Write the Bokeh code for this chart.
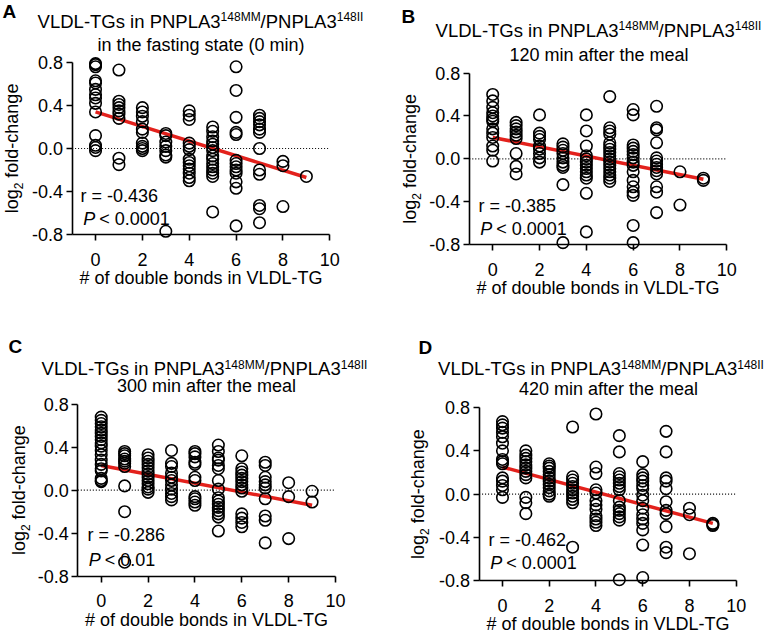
import math
from bokeh.plotting import figure
from bokeh.models import Range1d, FixedTicker, NumeralTickFormatter, Label, ColumnDataSource, LinearAxis
from bokeh.layouts import column, row
from bokeh.embed import file_html
from bokeh.resources import INLINE

# ---------------- data ----------------
bonds = [0, 1, 2, 3, 4, 5, 6, 7, 8, 9]

fc_A = [
    [0.79, 0.78, 0.76, 0.63, 0.61, 0.55, 0.50, 0.47, 0.42, 0.34, 0.12, 0.03, 0.01, -0.02],
    [0.73, 0.44, 0.41, 0.38, 0.35, 0.32, 0.28, -0.09, -0.15],
    [0.38, 0.34, 0.30, 0.25, 0.18, 0.15, 0.05, 0.02, 0.0, -0.02],
    [0.14, 0.12, 0.06, 0.02, -0.02, -0.06, -0.08, -0.77],
    [0.35, 0.31, 0.27, 0.05, 0.02, -0.01, -0.10, -0.13, -0.16, -0.19, -0.23, -0.27, -0.30],
    [0.20, 0.16, 0.11, 0.07, 0.04, 0.01, -0.02, -0.07, -0.10, -0.14, -0.17, -0.20, -0.23, -0.26, -0.59],
    [0.76, 0.54, 0.29, 0.15, 0.13, -0.11, -0.14, -0.17, -0.20, -0.23, -0.31, -0.37, -0.72],
    [0.31, 0.28, 0.25, 0.22, 0.18, 0.15, 0.0, -0.20, -0.24, -0.53, -0.56, -0.69],
    [-0.12, -0.16, -0.54],
    [-0.26],
]
fc_B = [
    [0.60, 0.54, 0.48, 0.43, 0.40, 0.37, 0.35, 0.28, 0.24, 0.20, 0.12, 0.08, -0.02],
    [0.34, 0.31, 0.28, 0.25, 0.22, 0.19, 0.05, -0.07, -0.14],
    [0.41, 0.24, 0.21, 0.18, 0.12, 0.09, 0.05, 0.01, -0.03],
    [0.14, 0.11, 0.08, 0.05, 0.01, -0.03, -0.06, -0.08, -0.24, -0.78],
    [0.41, 0.26, 0.12, 0.03, 0.0, -0.03, -0.06, -0.09, -0.12, -0.15, -0.18, -0.32, -0.68],
    [0.58, 0.29, 0.26, 0.23, 0.15, 0.12, 0.09, 0.06, 0.03, 0.0, -0.03, -0.06, -0.09, -0.12, -0.15, -0.18, -0.21],
    [0.46, 0.41, 0.13, 0.10, 0.07, 0.04, 0.01, -0.03, -0.06, -0.12, -0.20, -0.26, -0.31, -0.34, -0.62, -0.78],
    [0.49, 0.29, 0.27, 0.15, 0.01, -0.02, -0.05, -0.08, -0.11, -0.14, -0.26, -0.31, -0.50],
    [-0.12, -0.43],
    [-0.18, -0.20],
]
fc_C = [
    [0.68, 0.65, 0.62, 0.59, 0.56, 0.53, 0.50, 0.47, 0.44, 0.41, 0.37, 0.33, 0.28, 0.24, 0.20, 0.18, 0.11, 0.09, 0.08],
    [0.36, 0.34, 0.32, 0.29, 0.27, 0.25, 0.22, 0.04, -0.20, -0.67],
    [0.33, 0.30, 0.27, 0.24, 0.21, 0.18, 0.15, 0.12, 0.09, 0.06, 0.03, 0.01, -0.02],
    [0.37, 0.25, 0.22, 0.16, 0.12, 0.09, 0.05, 0.01, -0.03, -0.06, -0.09],
    [0.36, 0.34, 0.31, 0.26, 0.24, 0.12, 0.09, -0.06, -0.08, -0.11, -0.14],
    [0.42, 0.36, 0.30, 0.28, 0.23, 0.20, 0.09, 0.01, -0.07, -0.10, -0.13, -0.16, -0.19, -0.22, -0.25, -0.38],
    [0.32, 0.20, 0.17, 0.14, 0.11, 0.08, 0.05, 0.02, -0.01, -0.22, -0.26, -0.30, -0.34],
    [0.26, 0.23, 0.12, 0.08, 0.05, 0.02, -0.08, -0.24, -0.28, -0.49],
    [0.07, -0.06, -0.45],
    [-0.01, -0.11],
]
fc_D = [
    [0.67, 0.64, 0.61, 0.57, 0.53, 0.47, 0.40, 0.32, 0.30, 0.28, 0.15, 0.12, 0.08, 0.04, -0.03],
    [0.40, 0.36, 0.33, 0.30, 0.27, 0.24, 0.21, 0.18, 0.15, -0.03, -0.08, -0.18],
    [0.28, 0.26, 0.24, 0.21, 0.18, 0.15, 0.12, 0.09, 0.06, 0.03, 0.0, -0.02],
    [0.62, 0.16, 0.13, 0.10, 0.07, 0.04, 0.01, -0.02, -0.05, -0.08, -0.49],
    [0.74, 0.25, 0.19, 0.04, 0.01, -0.06, -0.10, -0.14, -0.20, -0.23, -0.26, -0.29],
    [0.54, 0.39, 0.19, 0.16, 0.13, 0.10, 0.07, 0.04, -0.06, -0.12, -0.15, -0.18, -0.21, -0.24, -0.79],
    [0.30, 0.18, 0.15, 0.12, 0.08, 0.05, -0.01, -0.06, -0.13, -0.19, -0.23, -0.27, -0.33, -0.47, -0.77],
    [0.58, 0.39, 0.15, 0.12, 0.05, -0.07, -0.15, -0.18, -0.30, -0.49, -0.54],
    [-0.13, -0.19, -0.55],
    [-0.27, -0.29, -0.28],
]

fit_x = [0, 9]
fit_A = [0.34, -0.27]
fit_B = [0.20, -0.19]
fit_C = [0.23, -0.14]
fit_D = [0.25, -0.27]

panel_letters = ["A", "B", "C", "D"]
title_main = ["VLDL-TGs in PNPLA3", "148MM", "/PNPLA3", "148II"]
subtitles = ["in the fasting state (0 min)", "120 min after the meal",
             "300 min after the meal", "420 min after the meal"]
r_texts = ["r = -0.436", "r = -0.385", "r = -0.286", "r = -0.462"]
p_texts = ["< 0.0001", "< 0.0001", "< 0.01", "< 0.0001"]
x_ticks = [0, 2, 4, 6, 8, 10]
y_ticks = [-0.8, -0.4, 0.0, 0.4, 0.8]
x_bounds = (-1, 10)
y_bounds = (-0.8, 0.8)
x_label = "# of double bonds in VLDL-TG"
y_label_parts = ["log", "2", "fold-change"]

# ---------------- layout constants (pixels inside each panel canvas) ----------------
FONT = "Liberation Sans"
RED = "#e3211c"
MID = 0.3465   # distance (in em) from alphabetic baseline up to the middle of the text box

GEOM = [
    dict(size=(388, 308), fl=71.6, fr=329.3, y08=62, ym08=234, letter=(2, 17.8),
         t1c=200, t1b=27.3, t2c=200.5, t2b=50.7, ylx=18, r=(80, 201.7), P=(82.7, 225)),
    dict(size=(384, 308), fl=80.8, fr=338.3, y08=72.5, ym08=244.3, letter=(13, 22.7),
         t1c=210, t1b=36, t2c=210.5, t2b=61, ylx=28, r=(90, 211.7), P=(91.7, 235)),
    dict(size=(388, 324), fl=77.3, fr=335.0, y08=95.7, ym08=267.7, letter=(8, 45),
         t1c=204, t1b=66.7, t2c=206, t2b=84, ylx=24.7, r=(87, 233), P=(88.3, 258)),
    dict(size=(384, 324), fl=90.6, fr=347.7, y08=99, ym08=272.3, letter=(30, 46),
         t1c=212.5, t1b=66.7, t2c=220, t2b=87, ylx=36, r=(100, 238), P=(101.7, 261)),
]

ADV = {' ': 278, 'V': 667, 'L': 556, 'D': 722, '-': 333, 'T': 611, 'G': 778, 's': 500,
       'i': 222, 'n': 556, 'P': 667, 'N': 722, 'A': 667, '/': 278, 'M': 833, 'I': 278,
       'l': 222, 'o': 556, 'g': 556, 'f': 278, 'd': 556, 'c': 500, 'h': 556, 'a': 556,
       'e': 556, 't': 278, 'm': 833, '(': 333, ')': 333, 'r': 333, 'u': 556, 'b': 556,
       '<': 584, '.': 278, '=': 584}


def text_w(s, size):
    return sum(ADV.get(ch, 556) for ch in s) * size / 1000.0


def build(i, fc, fit):
    g = GEOM[i]
    W, H = g["size"]
    fl, fr = g["fl"], g["fr"]
    ux = (fr - fl) / (x_bounds[1] - x_bounds[0])
    uy = (g["ym08"] - g["y08"]) / (y_bounds[1] - y_bounds[0])
    x0 = x_bounds[0] - fl / ux
    x1 = x_bounds[0] + (W - fl) / ux
    y1 = y_bounds[1] + g["y08"] / uy
    y0 = y_bounds[1] - (H - g["y08"]) / uy

    p = figure(width=W, height=H, x_range=Range1d(x0, x1), y_range=Range1d(y0, y1),
               title=None,
               min_border_left=0, min_border_right=0, min_border_top=0, min_border_bottom=0,
               x_axis_location=None, y_axis_location=None,
               output_backend="svg", toolbar_location=None, tools="")
    p.background_fill_color = "white"
    p.border_fill_color = "white"
    p.outline_line_color = None
    p.grid.visible = False

    xa = LinearAxis(fixed_location=y_bounds[0], bounds=x_bounds,
                    ticker=FixedTicker(ticks=x_ticks))
    ya = LinearAxis(fixed_location=x_bounds[0], bounds=y_bounds,
                    ticker=FixedTicker(ticks=y_ticks),
                    formatter=NumeralTickFormatter(format="0.0"))
    for ax in (xa, ya):
        ax.axis_line_width = 1.6
        ax.axis_line_color = "black"
        ax.major_tick_line_width = 1.6
        ax.major_tick_line_color = "black"
        ax.major_tick_out = 6
        ax.major_tick_in = 0
        ax.minor_tick_out = 0
        ax.minor_tick_in = 0
        ax.major_label_text_font = FONT
        ax.major_label_text_font_size = "18px"
        ax.major_label_text_color = "black"
    xa.major_label_standoff = 12
    ya.major_label_standoff = 3
    xa.axis_label = x_label
    xa.axis_label_text_font = FONT
    xa.axis_label_text_font_size = "18px"
    xa.axis_label_text_font_style = "normal"
    xa.axis_label_text_color = "black"
    xa.axis_label_standoff = -1
    p.add_layout(xa, "below")
    p.add_layout(ya, "left")

    # dotted zero reference line across the axis span
    p.line(list(x_bounds), [0, 0], line_color="black", line_width=1.2, line_dash="1 2")

    xs, ys = [], []
    for b, vals in zip(bonds, fc):
        for v in vals:
            xs.append(b)
            ys.append(v)
    p.line(fit_x, fit, line_color=RED, line_width=3.5)
    src = ColumnDataSource(dict(x=xs, y=ys))
    p.scatter("x", "y", source=src, size=11.5, fill_color=None,
              line_color="black", line_width=1.6)

    def to_data(lx, ly):
        return (x_bounds[0] + (lx - fl) / ux, y_bounds[1] - (ly - g["y08"]) / uy)

    def label(lx, ly, text, size, style="normal", rotated=False, align="left"):
        # (lx, ly) is the alphabetic baseline point; anchor the text box by its middle
        if rotated:
            lx, angle = lx - MID * size, math.pi / 2
        else:
            ly, angle = ly - MID * size, 0.0
        dx, dy = to_data(lx, ly)
        p.add_layout(Label(x=dx, y=dy, text=text, text_font=FONT,
                           text_font_size=f"{size}px", text_font_style=style,
                           text_color="black", text_align=align,
                           text_baseline="middle", angle=angle))

    # panel letter
    label(g["letter"][0], g["letter"][1], panel_letters[i], 19, style="bold")

    # title line 1 with superscripts
    T1, TS = 18.5, 12
    runs = [(title_main[0], T1, 0), (title_main[1], TS, -6.5),
            (title_main[2], T1, 0), (title_main[3], TS, -6.5)]
    total = sum(text_w(t, s) for t, s, _ in runs)
    x = g["t1c"] - total / 2
    for t, s, dy in runs:
        label(x, g["t1b"] + dy, t, s)
        x += text_w(t, s)
    # title line 2
    label(g["t2c"], g["t2b"], subtitles[i], 18, align="center")

    # y label with subscript (rotated, reading upward)
    gap = text_w(" ", 18)
    yruns = [(y_label_parts[0], 18, 0, 0), (y_label_parts[1], 12, 4, 0),
             (y_label_parts[2], 18, 0, gap)]
    ytot = sum(text_w(t, s) + pre for t, s, _, pre in yruns)
    zero_ly = g["y08"] + 0.8 * uy
    yy = zero_ly + ytot / 2
    for t, s, dx, pre in yruns:
        yy -= pre
        label(g["ylx"] + dx, yy, t, s, rotated=True)
        yy -= text_w(t, s)

    # statistics
    label(g["r"][0], g["r"][1], r_texts[i], 18)
    label(g["P"][0], g["P"][1], "P", 18, style="italic")
    label(g["P"][0] + 16, g["P"][1], p_texts[i], 18)
    return p


pa = build(0, fc_A, fit_A)
pb = build(1, fc_B, fit_B)
pc = build(2, fc_C, fit_C)
pd = build(3, fc_D, fit_D)

layout = column(row(pa, pb, spacing=0), row(pc, pd, spacing=0), spacing=0)
open("out.html", "w").write(file_html(layout, INLINE, title="VLDL-TG fold change"))
